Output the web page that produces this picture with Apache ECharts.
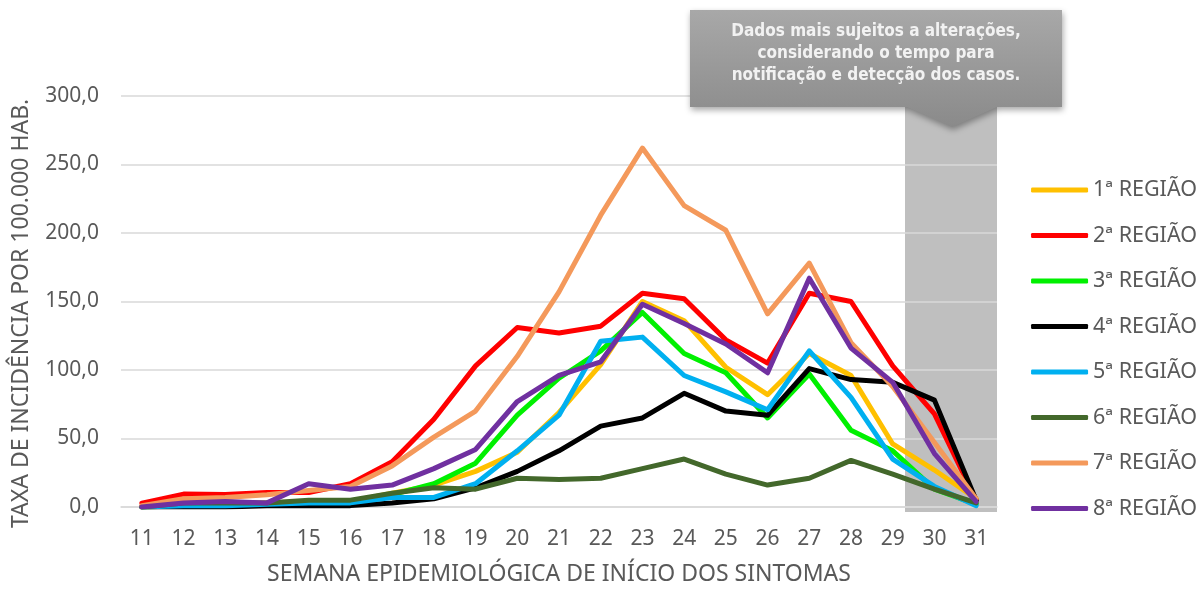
<!DOCTYPE html>
<html>
<head>
<meta charset="utf-8">
<title>Taxa de incidência por região</title>
<script src="https://cdn.jsdelivr.net/npm/echarts@6/dist/echarts.min.js"></script>
<style>
  html, body { margin: 0; padding: 0; background: #fff; }
  #chart { width: 1199px; height: 591px; }
</style>
</head>
<body>
<div id="chart"></div>
<script>
// semanas epidemiologicas (eixo x)
const semanas = ['11','12','13','14','15','16','17','18','19','20','21','22','23','24','25','26','27','28','29','30','31']

// taxa por 100.000 hab
const regiao1 = [0, 1, 2, 3, 4, 4, 10, 16, 26, 40, 69, 104, 150, 136, 102, 82, 112, 96, 46, 27, 6]
const regiao2 = [2.7, 9.4, 9.2, 10.6, 10.6, 17, 33, 64, 103, 131, 127, 132, 156, 152, 122, 105, 156, 150, 103, 68, 5]
const regiao3 = [0, 1, 1, 2, 3, 4, 9, 17, 32, 67, 94, 114, 142, 112, 98, 65, 97, 56, 41, 13, 2]
const regiao4 = [0, 0, 0, 1, 1, 1, 3, 6, 14, 26, 41, 59, 65, 83, 70, 67, 101, 93, 91, 78, 5]
const regiao5 = [0, 1, 1, 2, 3, 3, 7, 7, 17, 41, 67, 121, 124, 96, 84, 71, 114, 80, 35, 15, 1]
const regiao6 = [0, 3, 3, 3, 5, 5, 10, 14, 13, 21, 20, 21, 28, 35, 24, 16, 21, 34, 24, 13, 3]
const regiao7 = [1, 6, 7, 9, 12, 15, 30, 51, 70, 110, 157, 213, 262, 220, 202, 141, 178, 120, 88, 47, 6]
const regiao8 = [0, 3, 4, 3, 17, 13, 16, 28, 42, 77, 96, 106, 148, 134, 119, 98, 167, 116, 91, 39, 4]

const nomes = ['1ª REGIÃO','2ª REGIÃO','3ª REGIÃO','4ª REGIÃO','5ª REGIÃO','6ª REGIÃO','7ª REGIÃO','8ª REGIÃO']
const cores = ['#FFC000','#FF0000','#00F000','#000000','#00B0F0','#43682B','#F4995B','#7030A0']
const valores = [regiao1, regiao2, regiao3, regiao4, regiao5, regiao6, regiao7, regiao8]

const aviso = 'Dados mais sujeitos a alterações,\nconsiderando o tempo para\nnotificação e detecção dos casos.'

const textColor = '#595959'
const fonte = '"Noto Sans", sans-serif'

const chart = echarts.init(document.getElementById('chart'))

const series = valores.map(function (v, i) {
    return {
        name: nomes[i],
        type: 'line',
        data: v,
        showSymbol: false,
        symbol: 'none',
        lineStyle: { width: 5, color: cores[i], join: 'round', cap: 'round' },
        itemStyle: { color: cores[i] }
    }
})

const option = {
    animation: false,
    color: cores,
    grid: { left: 121, right: 202, top: 96, bottom: 79 },
    legend: {
        orient: 'vertical',
        right: 2,
        top: 179,
        padding: 0,
        icon: 'roundRect',
        itemWidth: 57,
        itemHeight: 5,
        itemGap: 23.5,
        textStyle: { color: textColor, fontSize: 21.5, fontFamily: fonte, lineHeight: 21 }
    },
    xAxis: {
        type: 'category',
        data: semanas,
        boundaryGap: true,
        name: 'SEMANA EPIDEMIOLÓGICA DE INÍCIO DOS SINTOMAS',
        nameLocation: 'middle',
        nameGap: 56,
        nameTextStyle: { color: textColor, fontSize: 23, fontFamily: fonte },
        axisLine: { lineStyle: { color: '#d9d9d9', width: 1.5 } },
        axisTick: { show: false },
        axisLabel: { color: textColor, fontSize: 21, fontFamily: fonte, margin: 22, interval: 0 }
    },
    yAxis: {
        type: 'value',
        min: 0,
        max: 300,
        interval: 50,
        name: 'TAXA DE INCIDÊNCIA POR 100.000 HAB.',
        nameLocation: 'middle',
        nameRotate: 90,
        nameGap: 88,
        nameTextStyle: { color: textColor, fontSize: 23, fontFamily: fonte, padding: [0, 24, 0, 0] },
        axisLine: { show: false },
        axisTick: { show: false },
        splitLine: { lineStyle: { color: '#d9d9d9', width: 1.5 } },
        axisLabel: {
            color: textColor, fontSize: 21, fontFamily: fonte, margin: 22,
            formatter: function (v) { return v.toFixed(1).replace('.', ',') }
        }
    },
    graphic: [
        // faixa cinza das ultimas semanas
        {
            type: 'rect',
            z: -1,
            shape: { x: 905, y: 100, width: 92, height: 412 },
            style: { fill: '#bfbfbf' }
        },
        // caixa de aviso com seta
        {
            type: 'polygon',
            z: 100,
            shape: {
                points: [[690, 10], [1062, 10], [1062, 107], [997, 107], [952, 127], [907, 107], [690, 107]]
            },
            style: {
                fill: new echarts.graphic.LinearGradient(0, 0, 0, 1, [
                    { offset: 0, color: '#a8a8a8' },
                    { offset: 1, color: '#8a8a8a' }
                ]),
                shadowBlur: 6,
                shadowOffsetX: 1,
                shadowOffsetY: 3,
                shadowColor: 'rgba(0,0,0,0.35)'
            }
        },
        {
            type: 'text',
            z: 101,
            x: 876,
            y: 54,
            style: {
                text: aviso,
                fill: '#f2f2f2',
                font: 'bold 17px "DejaVu Sans Condensed", "DejaVu Sans", sans-serif',
                align: 'center',
                verticalAlign: 'middle',
                lineHeight: 22
            }
        }
    ],
    series: series
}

chart.setOption(option)
</script>
</body>
</html>
